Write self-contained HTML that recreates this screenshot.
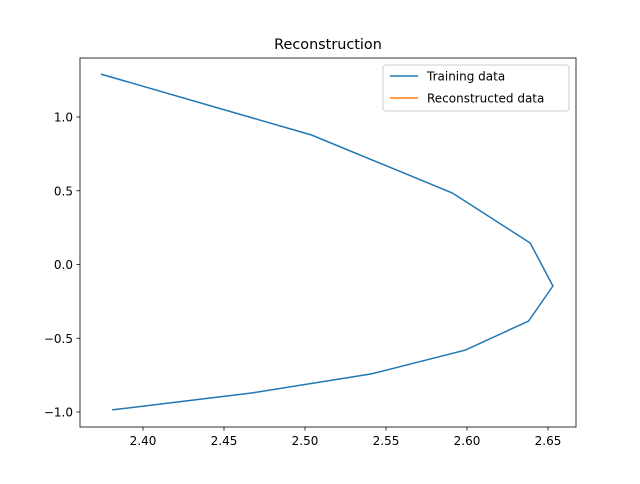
<!DOCTYPE html>
<html><head><meta charset="utf-8"><style>
body{margin:0;background:#fff;font-family:"DejaVu Sans","Liberation Sans",sans-serif}
text{font-family:"DejaVu Sans","Liberation Sans",sans-serif}
</style></head><body>
<svg id="chart" width="640" height="480" xmlns="http://www.w3.org/2000/svg">
<rect width="640" height="480" fill="#fff"/>
<text x="328" y="49" font-size="14.4" text-anchor="middle">Reconstruction</text>
<g id="xticks"></g>
<g id="yticks"></g>
<path id="train" fill="none" stroke="#1f77b4" stroke-width="1.5"/>
<path id="recon" fill="none" stroke="#ff7f0e" stroke-width="1.5"/>
<rect x="80" y="58" width="496" height="369" fill="none" stroke="#000" stroke-width="0.8"/>
<g>
<rect x="383" y="65" width="186" height="46" rx="3" fill="#fff" fill-opacity="0.8" stroke="#ccc"/>
<line x1="390" y1="76" x2="418" y2="76" stroke="#1f77b4" stroke-width="1.5"/>
<text x="427" y="80.5" font-size="12">Training data</text>
<line x1="390" y1="98" x2="418" y2="98" stroke="#ff7f0e" stroke-width="1.5"/>
<text x="427" y="102.5" font-size="12">Reconstructed data</text>
</g>
</svg>
<script>
const trainX=[2.374,2.504,2.591,2.639,2.653,2.638,2.599,2.541,2.467,2.381];
const trainY=[1.291,0.878,0.485,0.146,-0.146,-0.383,-0.580,-0.742,-0.871,-0.986];
const reconX=[];
const reconY=[];
const xTicks=[2.40,2.45,2.50,2.55,2.60,2.65];
const xTickLabels=["2.40","2.45","2.50","2.55","2.60","2.65"];
const yTicks=[-1.0,-0.5,0.0,0.5,1.0];
const yTickLabels=["−1.0","−0.5","0.0","0.5","1.0"];
function sx(x){return 143+(x-2.40)*1620;}
function sy(y){return 264.5-y*147.5;}
const NS="http://www.w3.org/2000/svg";
function path(xs,ys){return xs.map((x,i)=>(i?"L":"M")+sx(x).toFixed(1)+","+sy(ys[i]).toFixed(1)).join("");}
document.getElementById("train").setAttribute("d",path(trainX,trainY));
if(reconX.length)document.getElementById("recon").setAttribute("d",path(reconX,reconY));
const gx=document.getElementById("xticks");
xTicks.forEach((v,i)=>{const p=sx(v);
const l=document.createElementNS(NS,"line");
l.setAttribute("x1",p);l.setAttribute("x2",p);l.setAttribute("y1",427);l.setAttribute("y2",430.5);l.setAttribute("stroke","#000");l.setAttribute("stroke-width","0.8");


gx.appendChild(l);
const t=document.createElementNS(NS,"text");
t.setAttribute("x",p);t.setAttribute("y",445);t.setAttribute("font-size","12");t.setAttribute("text-anchor","middle");t.textContent=xTickLabels[i];


gx.appendChild(t);});
const gy=document.getElementById("yticks");
yTicks.forEach((v,i)=>{const p=sy(v);
const l=document.createElementNS(NS,"line");
l.setAttribute("x1",76.5);l.setAttribute("x2",80);l.setAttribute("y1",p);l.setAttribute("y2",p);l.setAttribute("stroke","#000");l.setAttribute("stroke-width","0.8");


gy.appendChild(l);
const t=document.createElementNS(NS,"text");
t.setAttribute("x",73);t.setAttribute("y",p+4.5);t.setAttribute("font-size","12");t.setAttribute("text-anchor","end");t.textContent=yTickLabels[i];


gy.appendChild(t);});
</script>
</body></html>
